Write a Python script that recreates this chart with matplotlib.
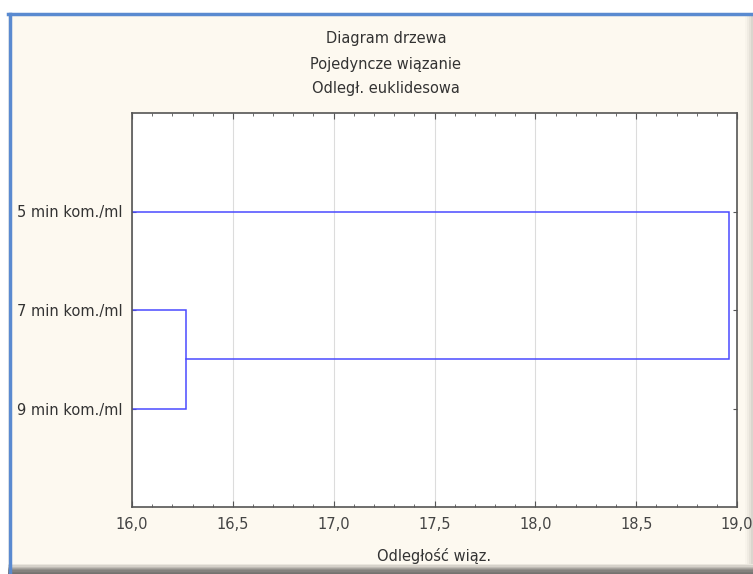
import matplotlib.pyplot as plt
from matplotlib.patches import Rectangle
from matplotlib.lines import Line2D
from matplotlib.ticker import MultipleLocator, FuncFormatter

# dane dendrogramu (wiazanie pojedyncze, odleglosc euklidesowa)
leaf_labels = ["5 min kom./ml", "7 min kom./ml", "9 min kom./ml"]
leaf_pos = [1, 2, 3]
# (lewe dziecko, prawe dziecko, odleglosc wiazania); indeksy >= 3 to skupienia
links = [(1, 2, 16.27), (0, 3, 18.96)]
x_min, x_max = 16.0, 19.0
x_ticks = [16.0, 16.5, 17.0, 17.5, 18.0, 18.5, 19.0]

W, H = 753, 574
plt.rcParams["font.family"] = ["DejaVu Sans"]
fig = plt.figure(figsize=(W / 100, H / 100), dpi=100, facecolor="white")

# okno w stylu STATISTICA
cream = "#fdf9f0"
fig.patches.append(Rectangle((8 / W, 0), 1, 1 - 13 / H, transform=fig.transFigure,
                             facecolor=cream, edgecolor="none", zorder=-3))
# cien na dole i lekki z prawej
shade = ["#ebe7de", "#d6d2ca", "#c0bcb5", "#a8a59f", "#94918c", "#85827e", "#7a7875", "#75736f"]
n = len(shade)
for i, c in enumerate(shade):
    y0 = 564 + i * 10 / n
    fig.patches.append(Rectangle((8 / W, 1 - (y0 + 10 / n) / H), 1, (10 / n) / H,
                                 transform=fig.transFigure, facecolor=c, edgecolor="none", zorder=-2))
side = ["#f8f4eb", "#f0ece3", "#e6e2d9", "#dad6ce"]
for i, c in enumerate(side):
    x0 = 745 + i * 2
    fig.patches.append(Rectangle((x0 / W, 10 / H), 2 / W, 1 - 26 / H,
                                 transform=fig.transFigure, facecolor=c, edgecolor="none", zorder=-2.5))
fig.lines.append(Line2D([8 / W, 1], [1 - 14 / H, 1 - 14 / H], transform=fig.transFigure,
                        color="#5a8ad0", lw=2.5))
fig.lines.append(Line2D([9.5 / W, 9.5 / W], [0, 1 - 14 / H], transform=fig.transFigure,
                        color="#5a8ad0", lw=2.5))

ax = fig.add_axes([132 / W, 1 - 507 / H, (737 - 132) / W, (507 - 113) / H])
ax.set_facecolor("white")

# rysowanie polaczen
node_x = {i: x_min for i in range(len(leaf_labels))}
node_y = {i: leaf_pos[i] for i in range(len(leaf_labels))}
blue = "#4a4aff"
for k, (a, b, d) in enumerate(links):
    ax.plot([node_x[a], d, d, node_x[b]], [node_y[a], node_y[a], node_y[b], node_y[b]],
            color=blue, lw=1.1, solid_joinstyle="miter")
    nid = len(leaf_labels) + k
    node_x[nid] = d
    node_y[nid] = (node_y[a] + node_y[b]) / 2

ax.set_xlim(x_min, x_max)
ax.set_ylim(4, 0)
ax.set_xticks(x_ticks)
ax.xaxis.set_minor_locator(MultipleLocator(0.1))
ax.xaxis.set_major_formatter(FuncFormatter(lambda v, p: f"{v:.1f}".replace(".", ",")))
ax.set_yticks(leaf_pos)
ax.set_yticklabels(leaf_labels)
ax.grid(axis="x", color="#dcdcdc", lw=0.8)
ax.set_axisbelow(True)

fs = 10.5
txt = "#333333"
ax.tick_params(axis="x", which="major", direction="in", length=4, top=True,
               labelsize=fs, colors="#555555", labelcolor="#444444", pad=7)
ax.tick_params(axis="x", which="minor", direction="in", length=2, top=True, colors="#555555")
ax.tick_params(axis="y", direction="in", length=3, right=True,
               labelsize=fs, colors="#555555", labelcolor=txt, pad=7)
for s in ax.spines.values():
    s.set_color("#555555")
    s.set_linewidth(1.2)

ax.set_xlabel("Odległość wiąz.", fontsize=fs, color=txt, labelpad=12)

title_lines = ["Diagram drzewa", "Pojedyncze wiązanie", "Odległ. euklidesowa"]
for i, t in enumerate(title_lines):
    fig.text(386 / W, 1 - (39 + 25 * i) / H, t, ha="center", va="center",
             fontsize=fs, color=txt)

fig.savefig("out.png", dpi=100, facecolor=fig.get_facecolor())
